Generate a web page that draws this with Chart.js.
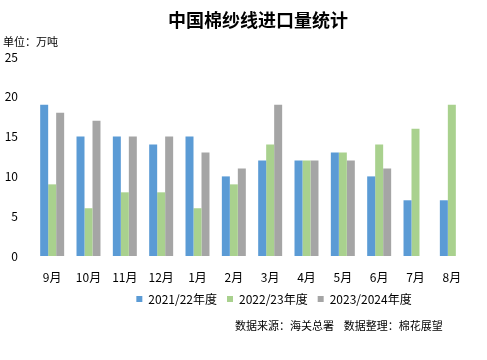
<!DOCTYPE html>
<html>
<head>
<meta charset="utf-8">
<script src="https://cdn.jsdelivr.net/npm/chart.js@4"></script>
<style>
  html, body { margin: 0; padding: 0; background: #fff; }
  #wrap { position: relative; width: 487px; height: 360px; }
</style>
</head>
<body>
<div id="wrap"><canvas id="miGrafica" width="487" height="360"></canvas></div>
<script>
// datos (万吨)
const meses = ['9月', '10月', '11月', '12月', '1月', '2月', '3月', '4月', '5月', '6月', '7月', '8月'];
const serie2122 = [19, 15, 15, 14, 15, 10, 12, 12, 13, 10, 7, 7];
const serie2223 = [9, 6, 8, 8, 6, 9, 14, 12, 13, 14, 16, 19];
const serie2324 = [18, 17, 15, 15, 13, 11, 19, 12, 12, 11, null, null];
const ticksY = [0, 5, 10, 15, 20, 25];

const fuente = '"Noto Sans CJK SC", "DejaVu Sans", sans-serif';

// textos fijos: título, unidad y fuente de datos
const textos = {
  id: 'textos',
  afterDraw(chart) {
    const c = chart.ctx;
    c.save();
    c.fillStyle = '#000';
    c.textBaseline = 'middle';
    c.textAlign = 'center';
    c.font = 'bold 18px ' + fuente;
    c.fillText('中国棉纱线进口量统计', 258, 20);
    c.textAlign = 'left';
    c.font = '11px ' + fuente;
    c.fillText('单位：万吨', 3, 42);
    c.fillText('数据来源：海关总署    数据整理：棉花展望', 235, 326);
    c.restore();
  }
};

// mover la leyenda a la derecha, como en el original
const moverLeyenda = {
  id: 'moverLeyenda',
  afterLayout(chart) {
    chart.legend.left += 37;
    chart.legend.right += 37;
  }
};

new Chart(document.getElementById('miGrafica').getContext('2d'), {
  type: 'bar',
  data: {
    labels: meses,
    datasets: [
      { label: '2021/22年度', data: serie2122, backgroundColor: '#5B9BD5' },
      { label: '2022/23年度', data: serie2223, backgroundColor: '#A9D18E' },
      { label: '2023/2024年度', data: serie2324, backgroundColor: '#A5A5A5' }
    ]
  },
  options: {
    responsive: false,
    animation: false,
    datasets: { bar: { categoryPercentage: 0.66, barPercentage: 1 } },
    layout: { padding: { left: 4, right: 17, top: 57, bottom: 45 } },
    plugins: {
      title: { display: false },
      tooltip: { enabled: false },
      legend: {
        position: 'bottom',
        labels: {
          font: { family: fuente, size: 12 },
          color: '#000',
          boxWidth: 6,
          boxHeight: 6,
          padding: 10
        }
      }
    },
    scales: {
      x: {
        grid: { display: false },
        border: { display: false },
        ticks: { color: '#000', font: { family: fuente, size: 12 }, padding: 6 },
        afterFit(scale) { scale.height = 27; }
      },
      y: {
        min: 0,
        max: 25,
        grid: { display: false },
        border: { display: false },
        afterBuildTicks(scale) { scale.ticks = ticksY.map(v => ({ value: v })); },
        ticks: { color: '#000', font: { family: fuente, size: 12 }, padding: 8 },
        afterFit(scale) { scale.width = 30; }
      }
    }
  },
  plugins: [textos, moverLeyenda]
});
</script>
</body>
</html>
